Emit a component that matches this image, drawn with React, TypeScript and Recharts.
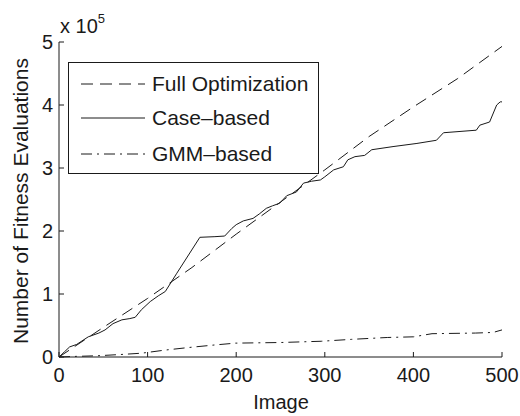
import React from "react"
import { LineChart, Line, XAxis, YAxis, Legend, Label } from "recharts"

// values (fitness evaluations, raw counts)
const fullImages = [0, 50, 100, 150, 200, 250, 300, 350, 400, 450, 500]
const fullEvals = [0, 47000, 93000, 142000, 195000, 246000, 297000, 350000, 397000, 442000, 493000]

const caseImages = [
  0, 6, 12, 20, 33, 45, 52, 61, 71, 80, 86, 93, 103, 112, 120, 133, 159, 176, 187, 195,
  200, 208, 219, 226, 234, 241, 249, 257, 268, 276, 285, 295, 300, 310, 321, 326, 334,
  345, 353, 377, 404, 426, 434, 471, 475, 486, 494, 498, 500,
]
const caseEvals = [
  0, 8000, 16000, 20000, 32000, 38000, 43000, 53000, 59000, 61000, 63000, 75000, 88000,
  97000, 104000, 133000, 190000, 191000, 192000, 204000, 210000, 216000, 220000, 227000,
  236000, 240000, 244000, 256000, 262000, 276000, 279000, 281000, 286000, 297000, 302000,
  313000, 318000, 320000, 329000, 334000, 339000, 344000, 356000, 360000, 368000, 373000,
  400000, 405000, 405000,
]

const gmmImages = [0, 20, 44, 70, 93, 120, 146, 175, 199, 250, 296, 330, 371, 400, 421, 470, 490, 500]
const gmmEvals = [
  0, 1000, 2000, 4000, 6000, 11000, 15000, 19000, 22000, 23000, 25000, 28000, 31000, 32000,
  37000, 38000, 39000, 43000,
]

const xTicks = [0, 100, 200, 300, 400, 500]
const yTicks = [0, 100000, 200000, 300000, 400000, 500000]

const zip = (xs: number[], ys: number[]) => xs.map((x, i) => ({ x, y: ys[i] }))

const series = [
  { name: "Full Optimization", data: zip(fullImages, fullEvals), dash: "12 7" },
  { name: "Case\u2013based", data: zip(caseImages, caseEvals), dash: undefined },
  { name: "GMM\u2013based", data: zip(gmmImages, gmmEvals), dash: "11 5 2 5" },
]

const FONT = "'Liberation Sans', Arial, Helvetica, sans-serif"
const INK = "#1a1a1a"
const tickStyle = { fontSize: 20, fill: INK, fontFamily: FONT }

const rowCenters = [21, 55, 91]

const renderLegend = () => (
  <div
    style={{
      width: 251,
      height: 112,
      border: `1px solid ${INK}`,
      boxSizing: "border-box",
      background: "#fff",
      position: "relative",
      fontFamily: FONT,
      fontSize: 21,
      color: INK,
    }}
  >
    {series.map((s, i) => (
      <div
        key={s.name}
        style={{
          position: "absolute",
          left: 0,
          top: rowCenters[i] - 12,
          height: 24,
          display: "flex",
          alignItems: "center",
          whiteSpace: "nowrap",
        }}
      >
        <svg width={83} height={24}>
          <line x1={12} x2={76} y1={12} y2={12} stroke={INK} strokeWidth={1} strokeDasharray={s.dash} />
        </svg>
        <span>{s.name}</span>
      </div>
    ))}
  </div>
)

export default function App() {
  return (
    <div style={{ position: "absolute", left: 0, top: 0, width: 520, height: 416, background: "#fff" }}>
      <LineChart width={520} height={416} margin={{ top: 42, right: 18, left: 0, bottom: 0 }}>
        <XAxis
          dataKey="x"
          type="number"
          domain={[0, 500]}
          ticks={xTicks}
          tick={tickStyle}
          tickSize={-5}
          tickMargin={16}
          stroke={INK}
          height={59}
          allowDuplicatedCategory={false}
        >
          <Label
            content={() => (
              <text x={281} y={409} textAnchor="middle" fontSize={20} fontFamily={FONT} fill={INK}>
                Image
              </text>
            )}
          />
        </XAxis>
        <XAxis
          xAxisId="top"
          orientation="top"
          type="number"
          domain={[0, 500]}
          ticks={xTicks}
          tickFormatter={() => ""}
          tickSize={-5}
          stroke={INK}
          height={0}
        />
        <YAxis
          type="number"
          domain={[0, 500000]}
          ticks={yTicks}
          tickFormatter={(v: number) => String(v / 100000)}
          tick={tickStyle}
          tickSize={-5}
          tickMargin={11}
          stroke={INK}
          width={59}
        >
          <Label
            content={() => (
              <g>
                <text
                  x={28}
                  y={201}
                  transform="rotate(-90 28 201)"
                  textAnchor="middle"
                  fontSize={21}
                  fontFamily={FONT}
                  fill={INK}
                >
                  Number of Fitness Evaluations
                </text>
                <text x={60} y={33} fontSize={20} fontFamily={FONT} fill={INK}>
                  x 10
                  <tspan fontSize={13} dy={-10}>5</tspan>
                </text>
              </g>
            )}
          />
        </YAxis>
        <YAxis
          yAxisId="right"
          orientation="right"
          type="number"
          domain={[0, 500000]}
          ticks={yTicks}
          tickFormatter={() => ""}
          tickSize={-5}
          stroke={INK}
          width={0}
        />
        <Legend
          verticalAlign="middle"
          layout="horizontal"
          content={renderLegend}
          wrapperStyle={{ top: 62, left: 68, width: 251, height: 112 }}
        />
        {series.map((s) => (
          <Line
            key={s.name}
            data={s.data}
            dataKey="y"
            name={s.name}
            type="linear"
            stroke={INK}
            strokeWidth={1}
            strokeDasharray={s.dash}
            dot={false}
            activeDot={false}
            isAnimationActive={false}
          />
        ))}
      </LineChart>
    </div>
  )
}
